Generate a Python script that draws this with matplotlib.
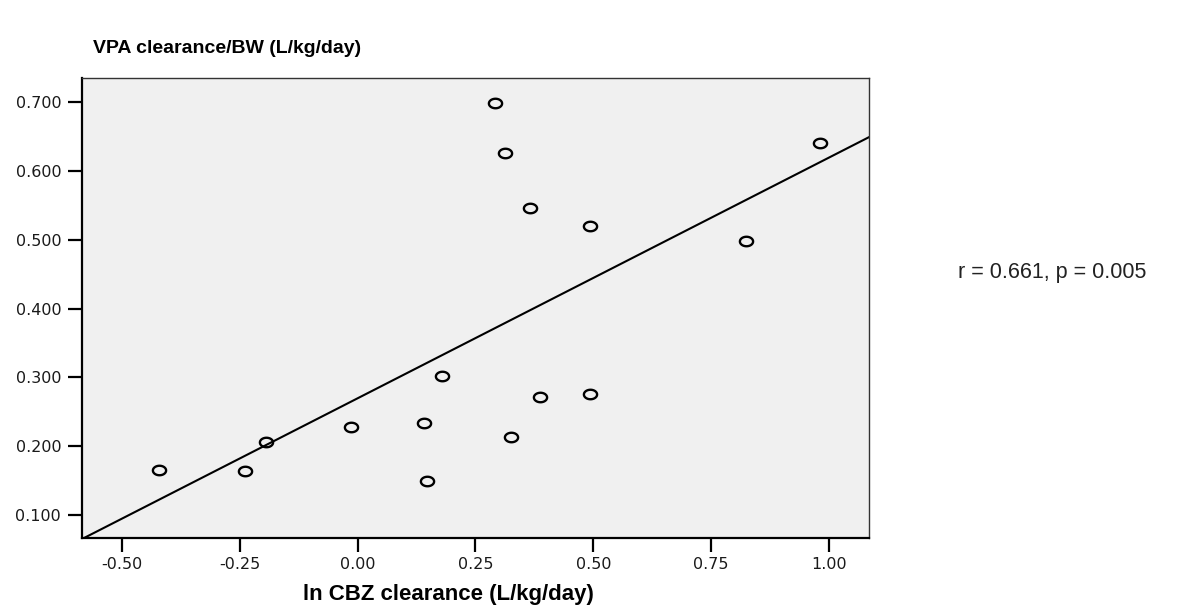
import numpy as np
import matplotlib
matplotlib.use("Agg")
import matplotlib.pyplot as plt
from matplotlib.path import Path

# ln CBZ clearance (L/kg/day) vs VPA clearance/BW (L/kg/day)
ln_cbz = [-0.421, -0.239, -0.194, -0.014, 0.141, 0.148, 0.179, 0.326,
          0.387, 0.492, 0.292, 0.313, 0.366, 0.492, 0.823, 0.980]
vpa_cl = [0.165, 0.164, 0.206, 0.228, 0.234, 0.149, 0.302, 0.213,
          0.272, 0.276, 0.699, 0.626, 0.546, 0.520, 0.498, 0.641]
xticks = [-0.50, -0.25, 0.00, 0.25, 0.50, 0.75, 1.00]
yticks = [0.1, 0.2, 0.3, 0.4, 0.5, 0.6, 0.7]
stat_text = "r = 0.661, p = 0.005"

x = np.array(ln_cbz)
y = np.array(vpa_cl)
slope, intercept = np.polyfit(x, y, 1)

# slightly flattened open circle, like the SPSS marker
t = np.linspace(0, 2 * np.pi, 60)
ellipse = Path(np.column_stack([np.cos(t), 0.72 * np.sin(t)]), closed=True)

fig = plt.figure(figsize=(11.95, 6.10), dpi=100)
ax = fig.add_axes([0.0686, 0.118, 0.6586, 0.754])
ax.set_facecolor("#f0f0f0")

xlim = (-0.585, 1.085)
ylim = (0.0666, 0.735)
xl = np.array(xlim)
ax.plot(xl, intercept + slope * xl, color="black", lw=1.5)
ax.plot(x, y, linestyle="none", marker=ellipse, ms=9.5, mfc="none",
        mec="black", mew=1.7)

ax.set_xlim(*xlim)
ax.set_ylim(*ylim)
ax.set_xticks(xticks)
ax.set_xticklabels([f"{v:.2f}" for v in xticks])
ax.set_yticks(yticks)
ax.set_yticklabels([f"{v:.3f}" for v in yticks])
ax.tick_params(direction="out", length=10, width=1.6, color="black",
               labelsize=11.5, labelcolor="#1a1a1a")
ax.tick_params(axis="y", pad=5)
ax.tick_params(axis="x", pad=4)
for side in ["left", "bottom"]:
    ax.spines[side].set_linewidth(1.6)
for side in ["top", "right"]:
    ax.spines[side].set_linewidth(1.0)
    ax.spines[side].set_color("#333333")

fig.text(0.078, 0.921, "VPA clearance/BW (L/kg/day)", fontsize=14,
         fontweight="bold", family="Liberation Sans", va="center")
fig.text(0.375, 0.026, "ln CBZ clearance (L/kg/day)", fontsize=16,
         fontweight="bold", family="Liberation Sans", ha="center", va="center")
fig.text(0.8015, 0.553, stat_text, fontsize=15.5, family="Liberation Sans",
         va="center", color="#222222")

fig.savefig("out.png", dpi=100)
